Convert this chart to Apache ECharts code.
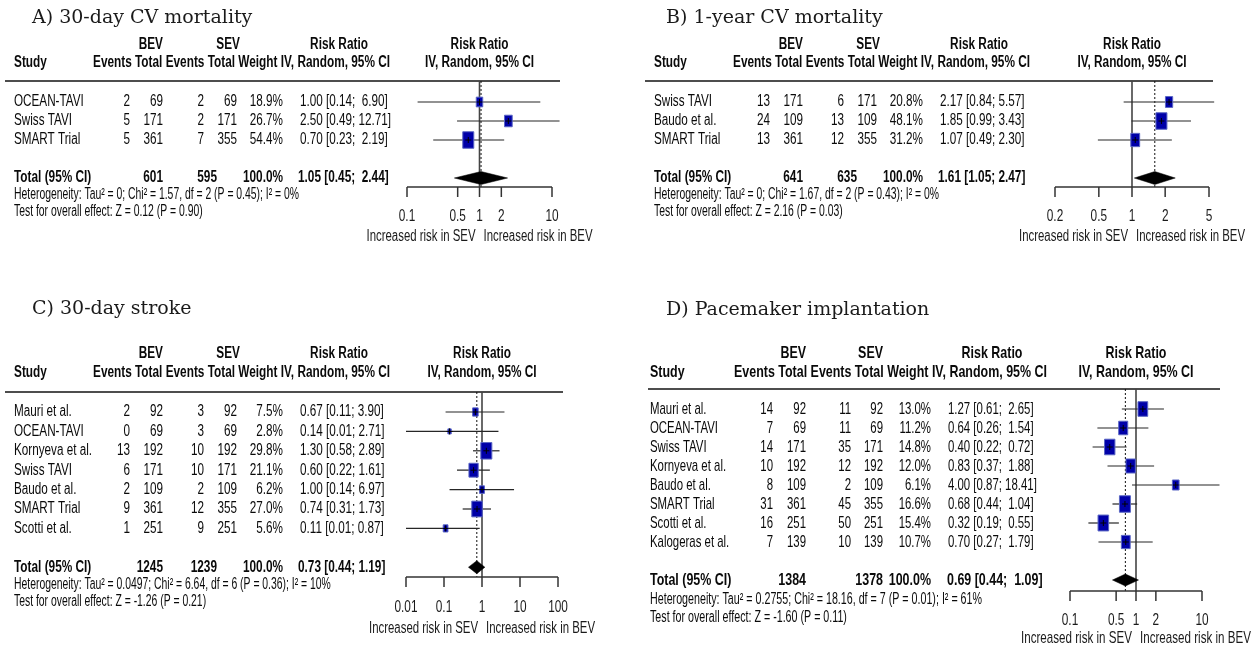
<!DOCTYPE html>
<html>
<head>
<meta charset="utf-8">
<script src="https://cdn.jsdelivr.net/npm/echarts@6/dist/echarts.min.js"></script>
<style>html,body{margin:0;padding:0;background:#fff}#chart{width:1255px;height:648px}</style>
</head>
<body>
<div id="chart"></div>
<script>
// ---------------- DATA ----------------
// Panel A: 30-day CV mortality
const A_title = 'A) 30-day CV mortality';
const A_studies = ['OCEAN-TAVI', 'Swiss TAVI', 'SMART Trial'];
const A_bevEvents = [2, 5, 5];
const A_bevTotal = [69, 171, 361];
const A_sevEvents = [2, 2, 7];
const A_sevTotal = [69, 171, 355];
const A_weight = [18.9, 26.7, 54.4];
const A_rr = [1.00, 2.50, 0.70];
const A_lower = [0.14, 0.49, 0.23];
const A_upper = [6.90, 12.71, 2.19];
const A_pooled = [1.05, 0.45, 2.44];
const A_totals = [601, 595];
const A_het = 'Heterogeneity: Tau² = 0; Chi² = 1.57, df = 2 (P = 0.45); I² = 0%';
const A_test = 'Test for overall effect: Z = 0.12 (P = 0.90)';
const A_ticks = [0.1, 0.5, 1, 2, 10];
const A_tickLabels = ['0.1', '0.5', '1', '2', '10'];

// Panel B: 1-year CV mortality
const B_title = 'B) 1-year CV mortality';
const B_studies = ['Swiss TAVI', 'Baudo et al.', 'SMART Trial'];
const B_bevEvents = [13, 24, 13];
const B_bevTotal = [171, 109, 361];
const B_sevEvents = [6, 13, 12];
const B_sevTotal = [171, 109, 355];
const B_weight = [20.8, 48.1, 31.2];
const B_rr = [2.17, 1.85, 1.07];
const B_lower = [0.84, 0.99, 0.49];
const B_upper = [5.57, 3.43, 2.30];
const B_pooled = [1.61, 1.05, 2.47];
const B_totals = [641, 635];
const B_het = 'Heterogeneity: Tau² = 0; Chi² = 1.67, df = 2 (P = 0.43); I² = 0%';
const B_test = 'Test for overall effect: Z = 2.16 (P = 0.03)';
const B_ticks = [0.2, 0.5, 1, 2, 5];
const B_tickLabels = ['0.2', '0.5', '1', '2', '5'];

// Panel C: 30-day stroke
const C_title = 'C) 30-day stroke';
const C_studies = ['Mauri et al.', 'OCEAN-TAVI', 'Kornyeva et al.', 'Swiss TAVI', 'Baudo et al.', 'SMART Trial', 'Scotti et al.'];
const C_bevEvents = [2, 0, 13, 6, 2, 9, 1];
const C_bevTotal = [92, 69, 192, 171, 109, 361, 251];
const C_sevEvents = [3, 3, 10, 10, 2, 12, 9];
const C_sevTotal = [92, 69, 192, 171, 109, 355, 251];
const C_weight = [7.5, 2.8, 29.8, 21.1, 6.2, 27.0, 5.6];
const C_rr = [0.67, 0.14, 1.30, 0.60, 1.00, 0.74, 0.11];
const C_lower = [0.11, 0.01, 0.58, 0.22, 0.14, 0.31, 0.01];
const C_upper = [3.90, 2.71, 2.89, 1.61, 6.97, 1.73, 0.87];
const C_pooled = [0.73, 0.44, 1.19];
const C_totals = [1245, 1239];
const C_het = 'Heterogeneity: Tau² = 0.0497; Chi² = 6.64, df = 6 (P = 0.36); I² = 10%';
const C_test = 'Test for overall effect: Z = -1.26 (P = 0.21)';
const C_ticks = [0.01, 0.1, 1, 10, 100];
const C_tickLabels = ['0.01', '0.1', '1', '10', '100'];

// Panel D: Pacemaker implantation
const D_title = 'D) Pacemaker implantation';
const D_studies = ['Mauri et al.', 'OCEAN-TAVI', 'Swiss TAVI', 'Kornyeva et al.', 'Baudo et al.', 'SMART Trial', 'Scotti et al.', 'Kalogeras et al.'];
const D_bevEvents = [14, 7, 14, 10, 8, 31, 16, 7];
const D_bevTotal = [92, 69, 171, 192, 109, 361, 251, 139];
const D_sevEvents = [11, 11, 35, 12, 2, 45, 50, 10];
const D_sevTotal = [92, 69, 171, 192, 109, 355, 251, 139];
const D_weight = [13.0, 11.2, 14.8, 12.0, 6.1, 16.6, 15.4, 10.7];
const D_rr = [1.27, 0.64, 0.40, 0.83, 4.00, 0.68, 0.32, 0.70];
const D_lower = [0.61, 0.26, 0.22, 0.37, 0.87, 0.44, 0.19, 0.27];
const D_upper = [2.65, 1.54, 0.72, 1.88, 18.41, 1.04, 0.55, 1.79];
const D_pooled = [0.69, 0.44, 1.09];
const D_totals = [1384, 1378];
const D_het = 'Heterogeneity: Tau² = 0.2755; Chi² = 18.16, df = 7 (P = 0.01); I² = 61%';
const D_test = 'Test for overall effect: Z = -1.60 (P = 0.11)';
const D_ticks = [0.1, 0.5, 1, 2, 10];
const D_tickLabels = ['0.1', '0.5', '1', '2', '10'];

const HEAD_GROUPS = ['BEV', 'SEV', 'Risk Ratio'];
const HEAD_STUDY = 'Study';
const HEAD_COLS = 'Events Total Events Total Weight IV, Random, 95% CI';
const HEAD_METHOD = 'IV, Random, 95% CI';
const SIDE_LABELS = ['Increased risk in SEV', 'Increased risk in BEV'];
const TOTAL_LABEL = 'Total (95% CI)';

// ---------------- LAYOUT ----------------
const SANS = '"Liberation Sans", Arimo, Arial, sans-serif';
const SERIF = '"DejaVu Serif", "Liberation Serif", serif';

const mctx = document.createElement('canvas').getContext('2d');
function measure(text, font) { mctx.font = font; return mctx.measureText(text).width; }
function fontStr(size, bold, family) { return (bold ? 'bold ' : '') + size + 'px ' + (family || SANS); }
function fit(text, size, bold, target) { return target / measure(text, fontStr(size, bold)); }

const L_ABC = {
  titleX: 32, hlineX0: 5, fs: 16, footFs: 16, titleFs: 19, tickFs: 16,
  cols: {study: 14, bevE: 130, bevT: 163, sevE: 204, sevT: 237, wt: 283, ci: 300},
  hdr2Right: 390,
  hdr1: [[163, 'right'], [240, 'right'], [339, 'center']],
  tot: {bevT: 163, sevT: 217, wt: 283, ci: 298},
  boxW: 11, boxH: 16.5, diaH: 13, tickLen: 10,
  fitBody: [['OCEAN-TAVI', 68], ['1.00 [0.14;  6.90]', 90]], fitHead: [HEAD_COLS, 297], fitSide: [SIDE_LABELS[0], 109], fitFoot: [A_het, 285], fitTick: ['0.01', 23]
};
const L_D = {
  titleX: 26, hlineX0: 8, fs: 17, footFs: 16, titleFs: 19, tickFs: 16,
  cols: {study: 10, bevE: 133, bevT: 166, sevE: 211, sevT: 243, wt: 291, ci: 308},
  hdr2Right: 407,
  hdr1: [[166, 'right'], [243, 'right'], [352, 'center']],
  tot: {bevT: 166, sevT: 243, wt: 291, ci: 307},
  boxW: 11, boxH: 16.5, diaH: 12, tickLen: 10,
  fitBody: [['Kalogeras et al.', 78], ['0.70 [0.27;  1.79]', 87]], fitHead: [HEAD_COLS, 313], fitSide: [SIDE_LABELS[0], 111], fitFoot: [D_het, 332], fitTick: ['0.01', 23]
};
const LAYOUT_A = Object.assign({}, L_ABC, {ox: 0, titleY: 18, h1Y: 45, h2Y: 63, hlineY: 81, hlineX1: 560, y0: 102, dy: 19, axisY: 187, tickLabelY: 217, sideY: 237, hetY: 195, testY: 212, plotX0: 407, plotX1: 552});
const LAYOUT_B = Object.assign({}, L_ABC, {ox: 640, titleX: 26, titleY: 18, h1Y: 45, h2Y: 63, hlineY: 81, hlineX1: 1213, y0: 102, dy: 19, axisY: 187, tickLabelY: 217, sideY: 237, hetY: 195, testY: 212, plotX0: 1055, plotX1: 1209});
const LAYOUT_C = Object.assign({}, L_ABC, {ox: 0, titleY: 309, h1Y: 354, h2Y: 373, hlineY: 392, hlineX1: 563, y0: 412, dy: 19.4, axisY: 577, tickLabelY: 608, sideY: 629, hetY: 585, testY: 602, plotX0: 406, plotX1: 558});
const LAYOUT_D = Object.assign({}, L_D, {ox: 640, titleY: 310, h1Y: 353, h2Y: 372, hlineY: 389, hlineX1: 1220, y0: 409, dy: 19, axisY: 591, tickLabelY: 621, sideY: 638, hetY: 600, testY: 618, plotX0: 1070, plotX1: 1202});

[LAYOUT_A, LAYOUT_B, LAYOUT_C, LAYOUT_D].forEach(function (L) {
  L.sx = (fit(L.fitBody[0][0], L.fs, false, L.fitBody[0][1]) + fit(L.fitBody[1][0], L.fs, false, L.fitBody[1][1])) / 2;
  L.hsx = fit(L.fitHead[0], L.fs, true, L.fitHead[1]);
  L.ssx = fit(L.fitSide[0], L.fs, false, L.fitSide[1]);
  L.fsx = fit(L.fitFoot[0], L.footFs, false, L.fitFoot[1]);
  L.tsx = fit(L.fitTick[0], L.tickFs, false, L.fitTick[1]);
});

const panels = [
  {title: A_title, studies: A_studies, bevE: A_bevEvents, bevT: A_bevTotal, sevE: A_sevEvents, sevT: A_sevTotal, wt: A_weight, rr: A_rr, lo: A_lower, hi: A_upper, pooled: A_pooled, totals: A_totals, het: A_het, test: A_test, ticks: A_ticks, tickLabels: A_tickLabels, L: LAYOUT_A},
  {title: B_title, studies: B_studies, bevE: B_bevEvents, bevT: B_bevTotal, sevE: B_sevEvents, sevT: B_sevTotal, wt: B_weight, rr: B_rr, lo: B_lower, hi: B_upper, pooled: B_pooled, totals: B_totals, het: B_het, test: B_test, ticks: B_ticks, tickLabels: B_tickLabels, L: LAYOUT_B},
  {title: C_title, studies: C_studies, bevE: C_bevEvents, bevT: C_bevTotal, sevE: C_sevEvents, sevT: C_sevTotal, wt: C_weight, rr: C_rr, lo: C_lower, hi: C_upper, pooled: C_pooled, totals: C_totals, het: C_het, test: C_test, ticks: C_ticks, tickLabels: C_tickLabels, L: LAYOUT_C},
  {title: D_title, studies: D_studies, bevE: D_bevEvents, bevT: D_bevTotal, sevE: D_sevEvents, sevT: D_sevTotal, wt: D_weight, rr: D_rr, lo: D_lower, hi: D_upper, pooled: D_pooled, totals: D_totals, het: D_het, test: D_test, ticks: D_ticks, tickLabels: D_tickLabels, L: LAYOUT_D}
];

// ---------------- HELPERS ----------------
function txt(x, y, text, o) {
  o = o || {};
  return {
    type: 'text', x: x, y: y, scaleX: o.sx == null ? 1 : o.sx,
    style: {
      text: text,
      font: fontStr(o.size || 15, o.bold, o.family),
      fill: o.color || '#0a0a0a',
      align: o.align || 'left',
      verticalAlign: 'middle'
    }
  };
}
function fmtCI(est, lo, hi, width) {
  let h = hi.toFixed(2);
  while (h.length < width) h = ' ' + h;
  return est.toFixed(2) + ' [' + lo.toFixed(2) + '; ' + h + ']';
}

// ---------------- OPTION ----------------
const grid = [], xAxis = [], yAxis = [], series = [];
panels.forEach(function (P, k) {
  const L = P.L;
  const n = P.studies.length;
  const yMin = (L.hlineY - L.y0) / L.dy;
  const yMax = (L.axisY - L.y0) / L.dy;
  const wmax = Math.max.apply(null, P.wt);
  const ciWidth = Math.max.apply(null, P.hi.concat([P.pooled[2]]).map(function (v) { return v.toFixed(2).length; }));
  const tMin = P.ticks[0], tMax = P.ticks[P.ticks.length - 1];
  const X = function (v) { return L.ox + v; };
  const body = function (extra) { return Object.assign({size: L.fs, sx: L.sx}, extra || {}); };
  const head = function (extra) { return Object.assign({size: L.fs, sx: L.hsx, bold: true}, extra || {}); };

  grid.push({left: L.plotX0, top: L.hlineY, width: L.plotX1 - L.plotX0, height: L.axisY - L.hlineY});
  xAxis.push({type: 'log', logBase: 10, gridIndex: k, min: tMin, max: tMax, show: false});
  yAxis.push({type: 'value', gridIndex: k, inverse: true, min: yMin, max: yMax, show: false});

  // Frame: header line, reference lines, axis, tick labels, side labels
  series.push({
    type: 'custom', coordinateSystem: 'cartesian2d', xAxisIndex: k, yAxisIndex: k, silent: true, z: 1,
    data: [[1, 0]], encode: {x: 0, y: 1},
    renderItem: function (params, api) {
      const top = api.coord([1, yMin]);
      const bot = api.coord([1, yMax]);
      const pl = api.coord([P.pooled[0], yMin]);
      const a0 = api.coord([tMin, yMax]);
      const a1 = api.coord([tMax, yMax]);
      const ch = [];
      ch.push({type: 'line', shape: {x1: L.hlineX0 + L.ox, y1: top[1], x2: L.hlineX1, y2: top[1]}, style: {stroke: '#4d4d4d', lineWidth: 2}});
      ch.push({type: 'line', shape: {x1: top[0], y1: top[1], x2: bot[0], y2: bot[1]}, style: {stroke: '#444', lineWidth: 1.6}});
      ch.push({type: 'line', shape: {x1: pl[0], y1: top[1], x2: pl[0], y2: bot[1]}, style: {stroke: '#111', lineWidth: 1, lineDash: [2, 2]}});
      ch.push({type: 'line', shape: {x1: a0[0], y1: a0[1], x2: a1[0], y2: a1[1]}, style: {stroke: '#333', lineWidth: 1.5}});
      P.ticks.forEach(function (t, j) {
        const p = api.coord([t, yMax]);
        ch.push({type: 'line', shape: {x1: p[0], y1: p[1], x2: p[0], y2: p[1] + L.tickLen}, style: {stroke: '#333', lineWidth: 1.5}});
        ch.push(txt(p[0], L.tickLabelY, P.tickLabels[j], {size: L.tickFs, sx: L.tsx, align: 'center', color: '#1a1a1a'}));
      });
      ch.push(txt(bot[0] - 4, L.sideY, SIDE_LABELS[0], body({sx: L.ssx, align: 'right', color: '#1a1a1a'})));
      ch.push(txt(bot[0] + 4, L.sideY, SIDE_LABELS[1], body({sx: L.ssx, align: 'left', color: '#1a1a1a'})));
      return {type: 'group', children: ch};
    }
  });

  // Study estimates: CI lines + weighted squares
  series.push({
    type: 'custom', coordinateSystem: 'cartesian2d', xAxisIndex: k, yAxisIndex: k, silent: true, z: 2,
    data: P.studies.map(function (s, i) { return [P.rr[i], P.lo[i], P.hi[i], P.wt[i], i]; }),
    dimensions: ['rr', 'lo', 'hi', 'wt', 'row'],
    encode: {x: [0, 1, 2], y: 4},
    renderItem: function (params, api) {
      const est = api.value(0), lo = api.value(1), hi = api.value(2), w = api.value(3), row = api.value(4);
      const c = api.coord([est, row]);
      const pl = api.coord([lo, row]);
      const ph = api.coord([hi, row]);
      const s = Math.sqrt(w / wmax);
      const bw = L.boxW * s, bh = L.boxH * s;
      return {type: 'group', children: [
        {type: 'line', shape: {x1: pl[0], y1: c[1], x2: ph[0], y2: c[1]}, style: {stroke: '#262626', lineWidth: 1.2}},
        {type: 'rect', shape: {x: c[0] - bw / 2, y: c[1] - bh / 2, width: bw, height: bh}, style: {fill: '#0000A8', stroke: '#5a66c4', lineWidth: 1}},
        {type: 'line', shape: {x1: c[0] - 3, y1: c[1], x2: c[0] + 3, y2: c[1]}, style: {stroke: '#000', lineWidth: 1}},
        {type: 'line', shape: {x1: c[0], y1: c[1] - 3, x2: c[0], y2: c[1] + 3}, style: {stroke: '#000', lineWidth: 1}}
      ]};
    }
  });

  // Pooled diamond
  series.push({
    type: 'custom', coordinateSystem: 'cartesian2d', xAxisIndex: k, yAxisIndex: k, silent: true, z: 3,
    data: [[P.pooled[0], P.pooled[1], P.pooled[2], n + 1]],
    encode: {x: [0, 1, 2], y: 3},
    renderItem: function (params, api) {
      const row = api.value(3);
      const c = api.coord([api.value(0), row]);
      const pl = api.coord([api.value(1), row]);
      const ph = api.coord([api.value(2), row]);
      const h = L.diaH / 2;
      return {type: 'polygon', shape: {points: [[pl[0], c[1]], [c[0], c[1] - h], [ph[0], c[1]], [c[0], c[1] + h]]}, style: {fill: '#000', stroke: '#000', lineWidth: 0.5}};
    }
  });

  // Table text (rows aligned through the same y axis)
  const tableData = P.studies.map(function (s, i) { return [1, i]; });
  tableData.push([1, n + 1]);
  tableData.push([1, 0]);
  series.push({
    type: 'custom', coordinateSystem: 'cartesian2d', xAxisIndex: k, yAxisIndex: k, silent: true, z: 4,
    data: tableData, encode: {x: 0, y: 1},
    renderItem: function (params, api) {
      const i = params.dataIndex;
      const C = L.cols;
      const ch = [];
      if (i < n) {
        const y = api.coord([1, i])[1];
        ch.push(txt(X(C.study), y, P.studies[i], body()));
        ch.push(txt(X(C.bevE), y, String(P.bevE[i]), body({align: 'right'})));
        ch.push(txt(X(C.bevT), y, String(P.bevT[i]), body({align: 'right'})));
        ch.push(txt(X(C.sevE), y, String(P.sevE[i]), body({align: 'right'})));
        ch.push(txt(X(C.sevT), y, String(P.sevT[i]), body({align: 'right'})));
        ch.push(txt(X(C.wt), y, P.wt[i].toFixed(1) + '%', body({align: 'right'})));
        ch.push(txt(X(C.ci), y, fmtCI(P.rr[i], P.lo[i], P.hi[i], ciWidth), body()));
      } else if (i === n) {
        const y = api.coord([1, n + 1])[1];
        const T = L.tot;
        const wsum = P.wt.reduce(function (a, b) { return a + b; }, 0);
        ch.push(txt(X(C.study), y, TOTAL_LABEL, head()));
        ch.push(txt(X(T.bevT), y, String(P.totals[0]), head({align: 'right'})));
        ch.push(txt(X(T.sevT), y, String(P.totals[1]), head({align: 'right'})));
        ch.push(txt(X(T.wt), y, Math.round(wsum).toFixed(1) + '%', head({align: 'right'})));
        ch.push(txt(X(T.ci), y, fmtCI(P.pooled[0], P.pooled[1], P.pooled[2], ciWidth), head()));
      } else {
        const plotMid = (api.coord([tMin, 0])[0] + api.coord([tMax, 0])[0]) / 2;
        ch.push(txt(X(L.titleX), L.titleY, P.title, {size: L.titleFs, family: SERIF, color: '#1a1a1a'}));
        for (let j = 0; j < 3; j++) {
          ch.push(txt(X(L.hdr1[j][0]), L.h1Y, HEAD_GROUPS[j], head({align: L.hdr1[j][1]})));
        }
        ch.push(txt(X(C.study), L.h2Y, HEAD_STUDY, head()));
        ch.push(txt(X(L.hdr2Right), L.h2Y, HEAD_COLS, head({align: 'right'})));
        ch.push(txt(plotMid, L.h1Y, HEAD_GROUPS[2], head({align: 'center'})));
        ch.push(txt(plotMid, L.h2Y, HEAD_METHOD, head({align: 'center'})));
        ch.push(txt(X(C.study), L.hetY, P.het, {size: L.footFs, sx: L.fsx}));
        ch.push(txt(X(C.study), L.testY, P.test, {size: L.footFs, sx: L.fsx}));
      }
      return {type: 'group', children: ch};
    }
  });
});

const chart = echarts.init(document.getElementById('chart'), null, {renderer: 'canvas'});
chart.setOption({
  backgroundColor: '#ffffff',
  animation: false,
  grid: grid, xAxis: xAxis, yAxis: yAxis, series: series
});
</script>
</body>
</html>
